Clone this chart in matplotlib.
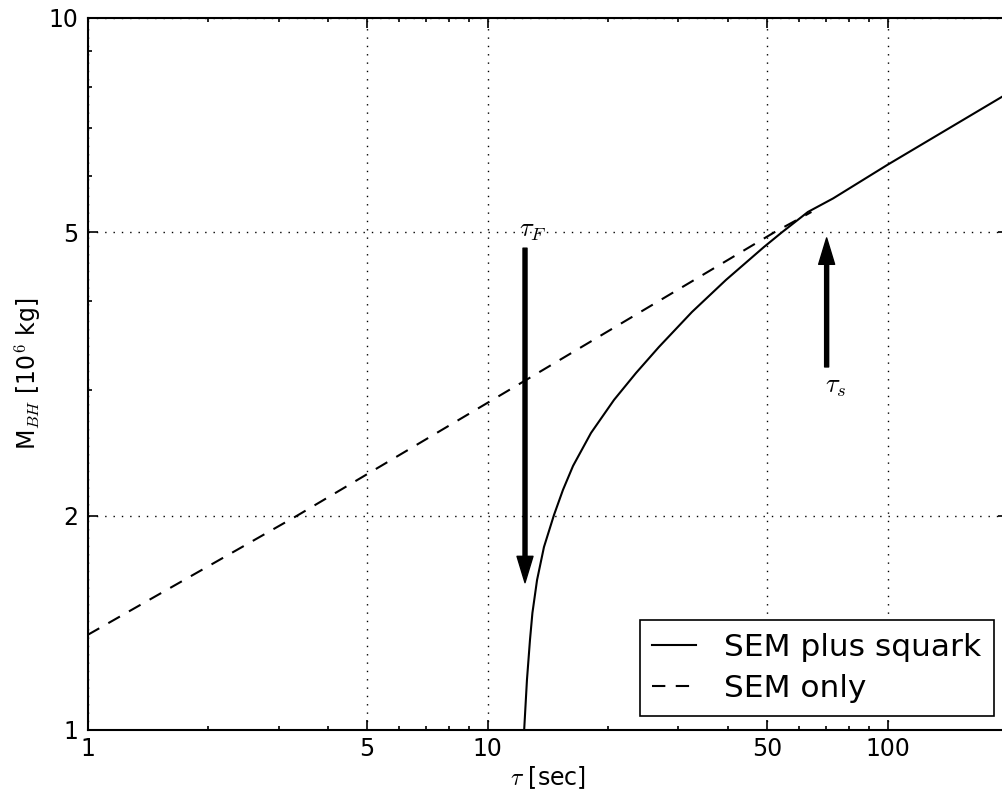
import numpy as np
import matplotlib
matplotlib.use('Agg')
import matplotlib.pyplot as plt
from matplotlib.ticker import FixedLocator, FixedFormatter, LogLocator, NullFormatter

plt.rcParams['mathtext.fontset'] = 'cm'
plt.rcParams['font.family'] = 'DejaVu Sans'

# SEM plus squark (solid)
tau_squark = [12.34, 12.54, 12.76, 12.94, 13.29, 13.83, 14.65, 15.43, 16.35, 18.13,
              20.70, 23.49, 26.81, 32.42, 39.43, 49.07, 54.42, 63.2, 73.1, 99.8, 200.0]
m_squark = [1.0, 1.176, 1.338, 1.460, 1.624, 1.807, 2.004, 2.174, 2.349, 2.613,
            2.908, 3.172, 3.451, 3.864, 4.286, 4.768, 5.0, 5.34, 5.58, 6.217, 7.84]

# SEM only (dashed)
tau_sem = [1.0, 3.34, 12.58, 52.1, 64.5]
m_sem = [1.36, 2.0, 3.11, 5.0, 5.34]

# arrows: (x, start y, end y)
arrow_F = (12.4, 4.75, 1.61)
arrow_s = (70.4, 3.235, 4.91)

x_ticks = [1, 5, 10, 50, 100]
y_ticks = [1, 2, 5, 10]

fig = plt.figure(figsize=(10.02, 7.99), dpi=100)
ax = fig.add_axes([0.0875, 0.0864, 0.9185, 0.8911])

ax.plot(tau_squark, m_squark, color='black', lw=1.5, label='SEM plus squark')
ax.plot(tau_sem, m_sem, color='black', lw=1.5, ls=(0, (6.4, 5)), label='SEM only')

ax.set_xscale('log')
ax.set_yscale('log')
ax.set_xlim(1, 200)
ax.set_ylim(1, 10)

ax.xaxis.set_major_locator(FixedLocator(x_ticks))
ax.xaxis.set_major_formatter(FixedFormatter([str(t) for t in x_ticks]))
ax.yaxis.set_major_locator(FixedLocator(y_ticks))
ax.yaxis.set_major_formatter(FixedFormatter([str(t) for t in y_ticks]))
ax.xaxis.set_minor_locator(LogLocator(base=10, subs=np.arange(2, 10)))
ax.yaxis.set_minor_locator(LogLocator(base=10, subs=np.arange(2, 10)))
ax.xaxis.set_minor_formatter(NullFormatter())
ax.yaxis.set_minor_formatter(NullFormatter())

ax.tick_params(which='both', direction='in', top=True, right=True, width=1.2)
ax.tick_params(which='major', length=7.2, labelsize=17)
ax.tick_params(axis='x', which='major', pad=5)
ax.tick_params(axis='y', which='major', pad=7)
ax.tick_params(which='minor', length=3)
for sp in ax.spines.values():
    sp.set_linewidth(1.5)

ax.grid(True, which='major', color='black', ls=(0, (1, 5)), lw=1.0)

ax.set_xlabel(r'$\tau$ [sec]', fontsize=17, labelpad=2)
ax.set_ylabel(r'M$_{BH}$ [10$^6$ kg]', fontsize=17, labelpad=4)

aprops = dict(facecolor='black', edgecolor='black', width=2.9, headwidth=11.5,
              headlength=19, shrink=0.0)
ax.annotate('', xy=(arrow_F[0], arrow_F[2]), xytext=(arrow_F[0], arrow_F[1]),
            arrowprops=aprops)
ax.annotate('', xy=(arrow_s[0], arrow_s[2]), xytext=(arrow_s[0], arrow_s[1]),
            arrowprops=aprops)
ax.text(11.97, 4.93, r'$\tau_F$', fontsize=19, ha='left', va='baseline')
ax.text(69.7, 2.98, r'$\tau_s$', fontsize=19, ha='left', va='baseline')

leg = ax.legend(loc='lower right', fontsize=22.5, fancybox=False, handlelength=1.4,
                handletextpad=0.9, borderaxespad=0.45, borderpad=0.4,
                labelspacing=0.4, framealpha=1)
leg.get_frame().set_edgecolor('black')
leg.get_frame().set_linewidth(1.2)

fig.savefig('out.png', dpi=100)
